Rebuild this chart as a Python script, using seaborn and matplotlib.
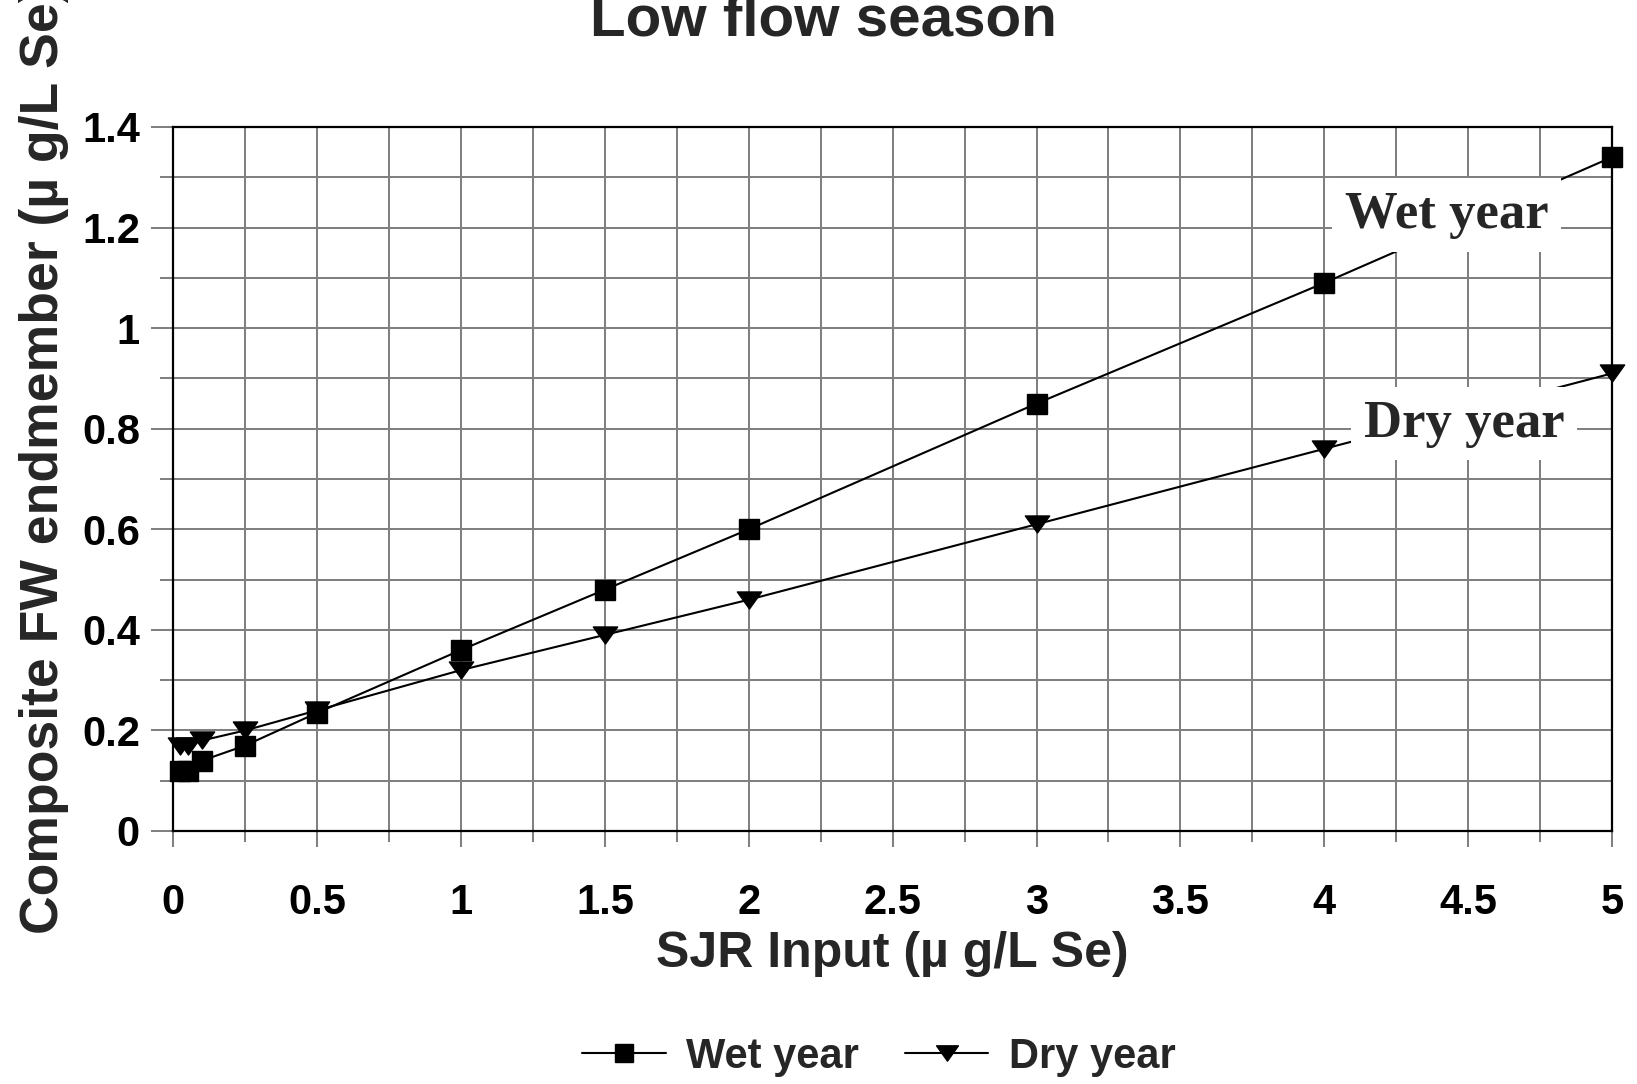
import numpy as np
import pandas as pd
import matplotlib
matplotlib.use("Agg")
import matplotlib.pyplot as plt
import seaborn as sns
from matplotlib.ticker import MultipleLocator, FuncFormatter
from matplotlib.path import Path

# ---- data ----
sjr_input = [0.025, 0.05, 0.1, 0.25, 0.5, 1, 1.5, 2, 3, 4, 5]
wet_year = [0.12, 0.12, 0.14, 0.17, 0.235, 0.36, 0.48, 0.60, 0.85, 1.09, 1.34]
dry_year = [0.17, 0.17, 0.18, 0.20, 0.24, 0.32, 0.39, 0.46, 0.61, 0.76, 0.91]
series_names = ["Wet year", "Dry year"]
title = "Low flow season"
xlabel = "SJR Input (\u00b5 g/L Se)"
ylabel = "Composite FW endmember (\u00b5 g/L Se)"

df = pd.DataFrame({
    "x": sjr_input * 2,
    "y": wet_year + dry_year,
    "series": [series_names[0]] * len(sjr_input) + [series_names[1]] * len(sjr_input),
})

sns.set_theme(style="white")
plt.rcParams["font.family"] = ["Liberation Sans", "DejaVu Sans"]
plt.rcParams["font.weight"] = "bold"

fig = plt.figure(figsize=(16.37, 10.84), dpi=100)
ax = fig.add_axes([173.3 / 1637, 1 - 831 / 1084, (1612 - 173.3) / 1637, (831 - 127) / 1084])

# wide, flat down-pointing triangle
tri = Path([(-1, 0.7), (1, 0.7), (0, -0.7), (-1, 0.7)],
           [Path.MOVETO, Path.LINETO, Path.LINETO, Path.CLOSEPOLY])

sns.lineplot(data=df[df.series == series_names[0]], x="x", y="y",
             color="black", marker="s", estimator=None, sort=True, ax=ax,
             legend=False, markersize=15, markeredgecolor="black",
             markeredgewidth=1.0, linewidth=1.5, clip_on=False, zorder=4)
sns.lineplot(data=df[df.series == series_names[1]], x="x", y="y",
             color="black", marker=tri, estimator=None, sort=True, ax=ax,
             legend=False, markersize=17.5, markeredgecolor="black",
             markeredgewidth=1.0, linewidth=1.5, clip_on=False, zorder=4)

ax.set_xlim(0, 5)
ax.set_ylim(0, 1.4)
ax.xaxis.set_major_locator(MultipleLocator(0.5))
ax.xaxis.set_minor_locator(MultipleLocator(0.25))
ax.yaxis.set_major_locator(MultipleLocator(0.2))
ax.yaxis.set_minor_locator(MultipleLocator(0.1))
fmt = FuncFormatter(lambda v, p: ("%g" % round(v, 2)))
ax.xaxis.set_major_formatter(fmt)
ax.yaxis.set_major_formatter(fmt)

ax.grid(True, which="both", color="#808080", linewidth=1.45, zorder=0)
ax.set_axisbelow(True)
for s in ax.spines.values():
    s.set_color("black")
    s.set_linewidth(1.6)
    s.set_visible(True)

ax.tick_params(axis="both", which="both", direction="out", color="#808080", width=1.45,
               labelsize=30, labelcolor="black")
ax.tick_params(axis="y", which="major", length=16, pad=8, left=True)
ax.tick_params(axis="y", which="minor", length=9.5, left=True)
ax.tick_params(axis="x", which="major", length=11.5, pad=26, bottom=True)
ax.tick_params(axis="x", which="minor", length=8, bottom=True)
for lab in ax.get_xticklabels() + ax.get_yticklabels():
    lab.set_fontweight("bold")

xl = ax.set_xlabel(xlabel, fontsize=36, fontweight="bold")
xl.set_va("baseline")
ax.xaxis.set_label_coords(0.5, -0.193)
yl = ax.set_ylabel(ylabel, fontsize=38.5, fontweight="bold")
yl.set_rotation_mode("anchor")
yl.set_ha("left")
yl.set_va("center")
ax.yaxis.set_label_coords(-0.090, -0.146)

fig.text(0.503, 1 - 36 / 1084, title, ha="center", va="baseline",
         fontsize=42, fontweight="bold")

# annotations
ax.text(4.425, 1.225, series_names[0], ha="center", va="center",
        fontsize=38, fontweight="bold", family=["Liberation Serif", "DejaVu Serif"],
        bbox=dict(facecolor="white", edgecolor="none", pad=9), zorder=6)
ax.text(4.485, 0.81, series_names[1], ha="center", va="center",
        fontsize=38, fontweight="bold", family=["Liberation Serif", "DejaVu Serif"],
        bbox=dict(facecolor="white", edgecolor="none", pad=9), zorder=6)

handles = ax.get_lines()[:2]
leg = fig.legend(handles, series_names, loc="center", bbox_to_anchor=(0.537, 0.025),
                 ncol=2, frameon=False, handlelength=2.0,
                 handletextpad=0.5, columnspacing=1.1, markerscale=0.9,
                 prop={"weight": "bold", "size": 30})

fig.savefig("out.png", dpi=100)
